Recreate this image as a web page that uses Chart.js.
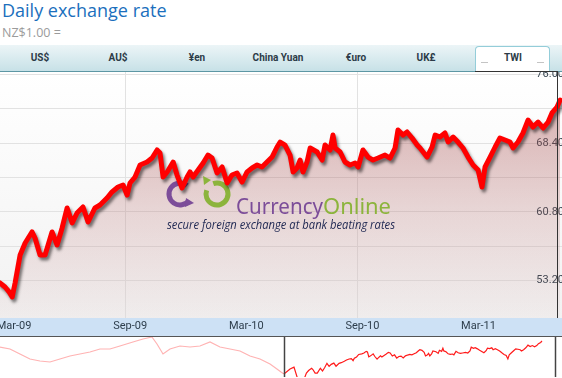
<!DOCTYPE html>
<html>
<head>
<meta charset="utf-8">
<script src="https://cdn.jsdelivr.net/npm/chart.js@4.4.1/dist/chart.umd.min.js"></script>
<style>
body { margin:0; width:562px; height:378px; overflow:hidden; position:relative; background:#fff; font-family:Roboto, "DejaVu Sans", sans-serif; }
#title { position:absolute; left:2px; top:-2px; font:18px "Open Sans", sans-serif; color:#1b6fbd; white-space:nowrap; }
#sub { position:absolute; left:2px; top:24px; font:12.5px "Open Sans", sans-serif; color:#9b9b9b; }
#tabs { position:absolute; left:0; top:45px; width:562px; height:26px; background:linear-gradient(#ecf5f7, #c7e1e7); border-bottom:1px solid #5d97a4; }
#twi { position:absolute; left:475px; top:46px; width:73px; height:26px; background:#fff; border:1px solid #94cdd9; border-bottom:none; border-radius:4px 4px 0 0; }
.dash { position:absolute; top:62px; width:7px; height:1px; background:#c4c4c4; }
.tab { position:absolute; top:52px; font:bold 10px Roboto, sans-serif; color:#2c3b47; transform:translateX(-50%); white-space:nowrap; }
#main { position:absolute; left:0; top:72px; width:570px; height:264px; }
#nav { position:absolute; left:0; top:336px; width:562px; height:42px; border-top:1.5px solid #555; }
#navInner { position:relative; width:562px; height:40px; }
#frameR { position:absolute; left:557px; top:71px; width:1px; height:247px; background:#333; }
#frameT { position:absolute; left:475px; top:71px; width:83px; height:1px; background:#333; }
</style>
</head>
<body>
<div id="title">Daily exchange rate</div>
<div id="sub">NZ$1.00 =</div>
<div id="tabs"></div>
<div id="twi"></div>
<div class="dash" style="left:481px"></div>
<div class="dash" style="left:537px"></div>
<div class="tab" style="left:40px">US$</div>
<div class="tab" style="left:118px">AU$</div>
<div class="tab" style="left:197px">¥en</div>
<div class="tab" style="left:278px">China Yuan</div>
<div class="tab" style="left:356px">€uro</div>
<div class="tab" style="left:426px">UK£</div>
<div class="tab" style="left:513px">TWI</div>
<div id="main"><canvas id="mainChart"></canvas></div>
<div id="nav"><div id="navInner"><canvas id="navChart"></canvas></div></div>
<div id="frameT"></div>
<div id="frameR"></div>
<script>
// months counted from Mar-09
const monthsFromMar09 = [-0.47,-0.21,0,0.16,0.31,0.57,0.83,1.19,1.34,1.60,1.86,2.22,2.48,2.74,3.00,3.26,3.51,3.82,4.08,4.44,
  4.70,5.06,5.32,5.63,5.89,6.10,6.25,6.51,6.77,7.13,7.39,7.65,7.80,7.96,8.17,8.48,8.68,8.94,9.20,9.35,
  9.51,9.77,10.03,10.28,10.49,10.75,11.01,11.27,11.52,11.78,12.04,12.30,12.56,12.82,13.07,13.33,13.59,13.85,14.01,14.26,
  14.52,14.68,14.88,15.04,15.19,15.40,15.56,15.92,16.18,16.33,16.59,16.74,16.85,17.11,17.36,17.62,17.88,18.04,18.29,18.55,
  18.81,19.07,19.43,19.69,19.95,20.10,20.36,20.57,20.83,21.09,21.24,21.60,21.86,22.02,22.27,22.53,22.69,22.95,23.20,23.46,
  23.72,23.98,24.24,24.44,24.60,24.86,25.12,25.37,25.63,25.89,26.05,26.30,26.56,26.82,27.08,27.34,27.60,27.86,28.06,28.32,28.48];
const twiValues = [52.93,52.49,51.94,51.39,52.93,56.02,57.35,58.57,57.90,56.02,
  56.02,58.57,57.13,59.01,61.22,59.56,60.66,61.33,59.67,61.22,
  61.55,62.32,62.99,63.54,63.76,62.65,63.98,64.64,65.97,66.30,
  66.74,67.63,67.30,64.64,65.20,66.30,64.86,63.43,64.64,65.20,
  64.64,65.42,66.19,67.07,66.74,65.09,65.75,63.98,64.86,65.09,
  64.09,65.20,65.64,65.97,65.75,66.30,66.85,67.96,68.51,68.18,
  67.07,65.20,65.64,66.52,65.20,66.30,67.85,67.41,66.52,68.18,
  67.63,69.28,67.85,67.41,66.30,65.97,66.19,65.75,67.63,66.85,
  66.52,66.74,67.07,66.74,67.85,69.84,69.28,69.62,68.95,68.18,
  67.85,66.85,67.96,69.28,69.06,69.51,68.51,69.06,68.51,67.85,
  66.85,65.97,65.42,63.54,65.75,66.85,67.96,68.95,68.73,68.51,
  67.85,68.51,69.51,70.94,70.17,70.72,70.06,70.72,71.72,72.38,73.15];

// older history shown only in the navigator
const histMonths = [-35.73,-34.55,-33.37,-32.18,-31.0,-29.81,-28.63,-27.44,-26.26,-25.07,-23.89,-22.7,-21.52,-19.98,-18.79,-17.73,
  -17.13,-16.42,-15.59,-14.41,-13.22,-12.04,-10.85,-9.67,-8.48,-7.3,-6.11,-4.93,-3.74,-2.92,-2.44,-2.09,-1.37,-0.9];
const histValues = [69.94,68.87,66.2,63.52,62.45,61.92,63.52,65.13,66.2,67.27,68.87,68.87,70.48,72.62,74.22,75.29,
  71.55,66.2,68.87,70.48,69.94,70.48,72.62,69.94,68.87,67.8,65.13,63.52,60.85,58.18,56.57,55.5,58.2,59.2];

const xTickMonths = [0, 6, 12, 18, 24];
const xTickLabels = ['Mar-09', 'Sep-09', 'Mar-10', 'Sep-10', 'Mar-11'];
const yTicks = [53.2, 57.0, 60.8, 64.6, 68.4, 72.2, 76.0];
const yLabelled = [53.2, 60.8, 68.4, 76.0];
const navWindow = [-2.09, 30.0];

const points = monthsFromMar09.map((m, i) => ({ x: m, y: twiValues[i] }));

function fillGradient(ctx) {
    const area = ctx.chart.chartArea;
    if (!area) return 'rgba(164,71,71,0.2)';
    const g = ctx.chart.ctx.createLinearGradient(0, area.top, 0, area.bottom);
    g.addColorStop(0, 'rgba(164,71,71,0.48)');
    g.addColorStop(0.55, 'rgba(164,71,71,0.2)');
    g.addColorStop(1, 'rgba(164,71,71,0.03)');
    return g;
}

// no extra room around the plot: labels may run off the edges like the original
function noPadding(axis) {
    axis.paddingTop = 0;
    axis.paddingBottom = 0;
    axis.paddingLeft = 0;
    axis.paddingRight = 0;
}

const plotBackground = {
    id: 'plotBackground',
    beforeDraw(chart) {
        const { ctx, chartArea: a } = chart;
        ctx.save();
        const g = ctx.createLinearGradient(0, a.top, 0, a.bottom);
        g.addColorStop(0, '#ffffff');
        g.addColorStop(1, '#f2f2f2');
        ctx.fillStyle = g;
        ctx.fillRect(a.left, a.top, a.right - a.left, a.bottom - a.top);
        // axis band
        ctx.fillStyle = '#cde1f5';
        ctx.fillRect(0, a.bottom, chart.width, chart.height - a.bottom);
        ctx.restore();
    }
};

const watermark = {
    id: 'watermark',
    afterDatasetDraw(chart, args) {
        if (args.index !== 1) return;
        const ctx = chart.ctx;
        ctx.save();
        ctx.lineWidth = 5;
        ctx.lineCap = 'butt';
        // purple C
        ctx.strokeStyle = '#7c4d99';
        ctx.beginPath();
        ctx.arc(180, 122, 11, 35 * Math.PI / 180, 310 * Math.PI / 180);
        ctx.stroke();
        ctx.fillStyle = '#7c4d99';
        ctx.beginPath();
        ctx.moveTo(186, 126); ctx.lineTo(194, 131); ctx.lineTo(185, 135); ctx.closePath();
        ctx.fill();
        // green O
        ctx.strokeStyle = '#8cb43c';
        ctx.beginPath();
        ctx.arc(217, 122, 11, 250 * Math.PI / 180, 200 * Math.PI / 180);
        ctx.stroke();
        ctx.fillStyle = '#8cb43c';
        ctx.beginPath();
        ctx.moveTo(211, 108); ctx.lineTo(204, 113); ctx.lineTo(203, 104); ctx.closePath();
        ctx.fill();
        // text
        ctx.font = '22px "Noto Sans", sans-serif';
        ctx.textBaseline = 'alphabetic';
        ctx.fillStyle = '#7c4d99';
        ctx.fillText('Currency', 236, 142, 87);
        ctx.fillStyle = '#8cb43c';
        ctx.fillText('Online', 323, 142, 68);
        ctx.font = 'italic 12px "Open Sans", sans-serif';
        ctx.fillStyle = '#1e2752';
        ctx.fillText('secure foreign exchange at bank beating rates', 167, 157, 228);
        ctx.restore();
    }
};

const lineShadow = {
    id: 'lineShadow',
    beforeDatasetDraw(chart, args) {
        if (args.index !== 0) return;
        const ctx = chart.ctx;
        ctx.save();
        ctx.shadowColor = 'rgba(0,0,0,0.5)';
        ctx.shadowBlur = 3;
        ctx.shadowOffsetX = 2;
        ctx.shadowOffsetY = 3;
    },
    afterDatasetDraw(chart, args) {
        if (args.index === 0) chart.ctx.restore();
    }
};

new Chart(document.getElementById('mainChart'), {
    type: 'line',
    data: {
        datasets: [{
            data: points,
            borderColor: '#ff0000',
            borderWidth: 5,
            pointRadius: 0,
            fill: false,
            borderJoinStyle: 'round',
            borderCapStyle: 'round'
        }, {
            data: points,
            borderWidth: 0,
            pointRadius: 0,
            fill: 'start',
            backgroundColor: fillGradient
        }]
    },
    options: {
        responsive: true,
        maintainAspectRatio: false,
        animation: false,
        layout: { autoPadding: false, padding: 0 },
        plugins: { legend: { display: false }, tooltip: { enabled: false } },
        scales: {
            x: {
                type: 'linear',
                min: -0.47,
                max: 28.99,
                afterBuildTicks: (axis) => { axis.ticks = xTickMonths.map(v => ({ value: v })); },
                afterFit: (axis) => { noPadding(axis); axis.height = 18; },
                ticks: {
                    autoSkip: false,
                    maxRotation: 0,
                    padding: 2,
                    labelOffset: 5,
                    color: '#2e3e4c',
                    font: { family: 'Roboto', size: 11 },
                    callback: (v) => { const i = xTickMonths.indexOf(v); return i >= 0 ? xTickLabels[i] : ''; }
                },
                grid: {
                    drawTicks: false,
                    color: (c) => (c.tick && c.tick.value % 12 === 6) ? '#e2e2e2' : 'rgba(0,0,0,0)'
                },
                border: { display: false }
            },
            y: {
                position: 'right',
                min: 49.06,
                max: 76.25,
                afterBuildTicks: (axis) => { axis.ticks = yTicks.map(v => ({ value: v })); },
                afterFit: (axis) => { noPadding(axis); axis.width = 0; },
                ticks: {
                    mirror: true,
                    padding: -6,
                    color: '#3c4a55',
                    font: { family: 'Roboto', size: 11 },
                    callback: (v) => yLabelled.includes(v) ? v.toFixed(2) : ''
                },
                grid: { drawTicks: false, color: '#e2e2e2' },
                border: { display: false }
            }
        }
    },
    plugins: [plotBackground, watermark, lineShadow]
});

const navFrame = {
    id: 'navFrame',
    afterDraw(chart) {
        const { ctx } = chart;
        const xs = chart.scales.x;
        ctx.save();
        ctx.strokeStyle = '#444';
        ctx.lineWidth = 1.5;
        navWindow.forEach(m => {
            const px = Math.round(xs.getPixelForValue(m)) + 0.5;
            ctx.beginPath();
            ctx.moveTo(px, 0);
            ctx.lineTo(px, chart.height);
            ctx.stroke();
        });
        ctx.restore();
    }
};

const navPoints = histMonths.map((m, i) => ({ x: m, y: histValues[i] })).concat(points);

new Chart(document.getElementById('navChart'), {
    type: 'line',
    data: {
        datasets: [{
            data: navPoints,
            borderWidth: 1.2,
            pointRadius: 0,
            borderColor: '#ff1a1a',
            segment: {
                borderColor: (s) => s.p1.parsed.x <= navWindow[0] ? '#ffb3b3' : '#ff1a1a'
            }
        }]
    },
    options: {
        responsive: true,
        maintainAspectRatio: false,
        animation: false,
        layout: { autoPadding: false, padding: 0 },
        plugins: { legend: { display: false }, tooltip: { enabled: false } },
        scales: {
            x: { type: 'linear', display: false, min: -35.73, max: 30.85 },
            y: { display: false, min: 53.9, max: 75.3 }
        }
    },
    plugins: [navFrame]
});
</script>
</body>
</html>
